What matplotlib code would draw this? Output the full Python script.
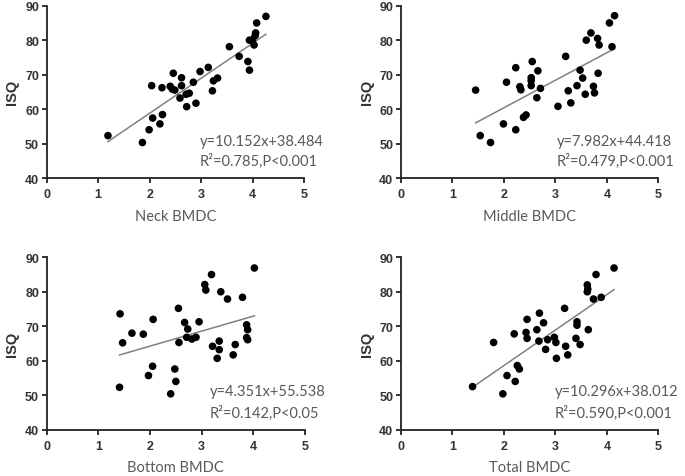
import numpy as np
import matplotlib
matplotlib.use("Agg")
import matplotlib.pyplot as plt

# ---- data ----
neck_x = [1.19, 2.04, 2.06, 1.99, 1.86, 2.20, 2.25, 2.24, 2.46, 2.40, 2.44, 2.49,
          2.62, 2.62, 2.59, 2.72, 2.71, 2.77, 2.85, 2.90, 2.98, 3.14, 3.22, 3.24,
          3.32, 3.55, 3.74, 3.91, 3.94, 3.94, 4.00, 4.03, 4.06, 4.05, 4.08, 4.26]
neck_y = [52.3, 66.8, 57.4, 54.0, 50.3, 55.7, 58.4, 66.2, 70.4, 66.6, 65.8, 65.5,
          69.1, 66.8, 63.2, 60.7, 64.3, 64.6, 67.8, 61.7, 70.9, 72.1, 65.3, 68.2,
          69.0, 78.1, 75.3, 73.8, 71.3, 80.0, 80.1, 78.6, 82.1, 81.3, 85.0, 86.9]

middle_x = [1.45, 2.05, 2.23, 2.31, 2.33, 2.55, 2.53, 2.53, 2.53, 2.66, 2.71, 2.64,
            2.43, 2.38, 3.05, 3.20, 3.25, 3.30, 3.42, 3.48, 3.53, 3.58, 3.74, 3.76,
            3.83, 3.60, 3.69, 3.82, 3.85, 4.10, 4.05, 4.15, 1.54, 1.74, 1.99, 2.23]
middle_y = [65.5, 67.8, 72.0, 66.5, 65.6, 73.8, 69.1, 68.2, 66.8, 71.1, 66.0, 63.3,
            58.3, 57.6, 60.8, 75.3, 65.3, 61.8, 66.8, 71.3, 69.0, 64.3, 66.6, 64.7,
            70.4, 80.0, 82.1, 80.5, 78.6, 78.1, 85.0, 87.1, 52.3, 50.3, 55.7, 54.0]

bottom_x = [1.65, 1.87, 2.06, 2.05, 1.97, 2.55, 2.67, 2.73, 2.95, 2.71, 2.81, 2.89,
            2.56, 2.48, 2.50, 2.40, 3.19, 3.06, 3.08, 3.37, 3.50, 3.79, 4.02, 3.87,
            3.89, 3.87, 3.89, 3.21, 3.34, 3.34, 3.30, 3.65, 3.61, 1.42, 1.47, 1.41]
bottom_y = [68.0, 67.7, 72.0, 58.4, 55.7, 75.2, 71.1, 69.2, 71.3, 66.8, 66.3, 66.8,
            65.3, 57.6, 54.0, 50.4, 85.0, 82.1, 80.5, 80.0, 77.9, 78.4, 86.9, 70.4,
            69.0, 66.7, 66.1, 64.2, 65.7, 63.2, 60.7, 64.7, 61.7, 73.6, 65.2, 52.3]

total_x = [1.39, 1.80, 1.98, 2.06, 2.22, 2.26, 2.30, 2.20, 2.45, 2.43, 2.45, 2.64,
           2.69, 2.77, 2.68, 2.81, 2.85, 2.98, 3.01, 3.02, 3.18, 3.20, 3.24, 3.42,
           3.42, 3.40, 3.48, 3.64, 3.62, 3.63, 3.62, 3.74, 3.89, 3.79, 4.14]
total_y = [52.5, 65.3, 50.4, 55.7, 54.0, 58.6, 57.6, 67.8, 72.0, 68.2, 66.5, 69.0,
           73.8, 71.0, 65.7, 63.3, 66.1, 66.8, 65.3, 60.7, 75.2, 64.2, 61.7, 71.3,
           70.3, 66.5, 64.7, 69.0, 82.0, 80.8, 80.0, 77.9, 78.4, 85.0, 86.9]

labels = ["Neck BMDC", "Middle BMDC", "Bottom BMDC", "Total BMDC"]
slopes = [10.152, 7.982, 4.351, 10.296]
intercepts = [38.484, 44.418, 55.538, 38.012]
eq_text = ["y=10.152x+38.484", "y=7.982x+44.418", "y=4.351x+55.538", "y=10.296x+38.012"]
stat_text = ["R\u00b2=0.785,P<0.001", "R\u00b2=0.479,P<0.001",
             "R\u00b2=0.142,P<0.05", "R\u00b2=0.590,P<0.001"]

xs = [neck_x, middle_x, bottom_x, total_x]
ys = [neck_y, middle_y, bottom_y, total_y]

# axes rectangles in pixels (left, top, right, bottom), and annotation anchors
W, H = 685, 477
rects = [(46.7, 6.7, 304, 179), (401, 6.7, 658.3, 179),
         (46.7, 258.3, 305, 430.7), (401, 258.3, 658.3, 430.7)]
text_x = [2.98, 3.03, 3.16, 2.98]
text_y = [(50.8, 45.0), (50.8, 45.0), (51.3, 45.0), (51.3, 45.0)]

label_font = ["Lato", "DejaVu Sans"]
tick_font = ["Liberation Sans", "DejaVu Sans"]

fig = plt.figure(figsize=(W / 100, H / 100), dpi=100)
fig.patch.set_facecolor("white")

for i in range(4):
    l, t, r, b = rects[i]
    ax = fig.add_axes([l / W, 1 - b / H, (r - l) / W, (b - t) / H])
    x = np.array(xs[i])
    y = np.array(ys[i])
    ax.scatter(x, y, s=30, color="black", edgecolors="none", zorder=3, clip_on=False)
    lx = np.array([x.min(), x.max()])
    ax.plot(lx, slopes[i] * lx + intercepts[i], color="#808080", lw=1.1, zorder=2)

    ax.set_xlim(0, 5)
    ax.set_ylim(40, 90)
    ax.set_xticks(range(0, 6))
    ax.set_yticks(range(40, 91, 10))
    for s in ["top", "right"]:
        ax.spines[s].set_visible(False)
    for s in ["left", "bottom"]:
        ax.spines[s].set_linewidth(1.3)
        ax.spines[s].set_color("#222222")
    ax.tick_params(direction="out", length=3.5, width=1.3, color="#222222",
                   labelsize=9, labelcolor="#333333")
    ax.tick_params(axis="x", pad=4)
    ax.tick_params(axis="y", pad=2)
    for lab in ax.get_xticklabels() + ax.get_yticklabels():
        lab.set_fontweight("bold")
        lab.set_family(tick_font)

    ax.set_xlabel(labels[i], family=label_font, fontsize=10.5, color="#595959", labelpad=6)
    ax.set_ylabel("ISQ", family=tick_font, fontsize=10.5, fontweight="bold",
                  color="#333333", labelpad=4)

    ax.text(text_x[i], text_y[i][0], eq_text[i], family=label_font, fontsize=10.5,
            color="#595959", va="center", ha="left", clip_on=False)
    ax.text(text_x[i], text_y[i][1], stat_text[i], family=label_font, fontsize=10.5,
            color="#595959", va="center", ha="left", clip_on=False)

fig.savefig("out.png", dpi=100)
